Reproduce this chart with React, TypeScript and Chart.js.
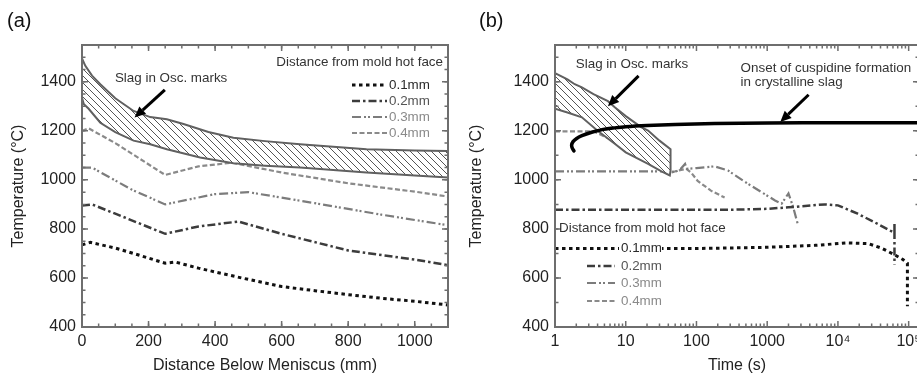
import React, { useEffect, useRef } from 'react';
import { Chart, registerables } from 'chart.js';
Chart.register(...registerables);

const FONT = "'Liberation Sans', Arial, Helvetica, sans-serif";

// ---------------- Panel (a): temperature vs distance below meniscus ----------------
const distA_01 = [0, 25, 100, 150, 250, 280, 350, 480, 600, 700, 800, 900, 1000, 1100];
const tempA_01 = [735, 745, 722, 702, 660, 665, 640, 600, 565, 548, 532, 517, 505, 490];
const distA_02 = [0, 30, 100, 250, 350, 470, 600, 800, 1000, 1100];
const tempA_02 = [895, 900, 862, 780, 810, 830, 780, 712, 675, 652];
const distA_03 = [0, 30, 150, 250, 400, 500, 700, 900, 1100];
const tempA_03 = [1050, 1050, 960, 900, 942, 950, 905, 858, 815];
const distA_04 = [0, 20, 100, 250, 350, 450, 600, 800, 1000, 1100];
const tempA_04 = [1200, 1210, 1150, 1020, 1055, 1070, 1030, 986, 952, 932];

const bandA_upperX = [0, 10, 30, 55, 100, 155, 205, 255, 305, 380, 455, 550, 655, 755, 855, 1000, 1100];
const bandA_upperY = [1495, 1465, 1425, 1390, 1333, 1281, 1256, 1247, 1228, 1195, 1172, 1158, 1145, 1135, 1125, 1120, 1118];
const bandA_lowerX = [1100, 1000, 855, 755, 655, 550, 455, 355, 255, 205, 155, 100, 55, 20, 5, 0];
const bandA_lowerY = [1010, 1018, 1030, 1040, 1050, 1058, 1068, 1091, 1125, 1145, 1160, 1195, 1233, 1290, 1310, 1335];

const distTicksA = [0, 200, 400, 600, 800, 1000];
const tempTicks = [400, 600, 800, 1000, 1200, 1400];

// ---------------- Panel (b): temperature vs time ----------------
const timeB_01 = [1, 100, 1000, 4700, 14000, 27000, 41000, 63000, 83000, 96000, 96000];
const tempB_01 = [720, 720, 725, 733, 743, 740, 722, 695, 675, 660, 485];
const timeB_02 = [1, 300, 1000, 2000, 6500, 10000, 19000, 33000, 60000, 63000, 63000, 63000];
const tempB_02 = [878, 878, 882, 888, 900, 896, 862, 827, 787, 785, 823, 655];
const timeB_03 = [1, 40, 50, 60, 69, 73, 100, 180, 280, 534, 1290, 1600, 2000, 2330, 2690];
const tempB_03 = [1035, 1035, 1032, 1045, 1065, 1045, 1048, 1055, 1038, 984, 916, 903, 945, 889, 822];
const timeB_04 = [1, 3.5, 8, 15, 30, 42, 55, 72, 84, 104, 160, 250];
const tempB_04 = [1198, 1198, 1150, 1100, 1050, 1028, 1038, 1045, 1030, 996, 956, 928];

const bandB_upperT = [1, 1.5, 1.9, 2.4, 3.5, 5.6, 7, 10, 16.5, 20.7, 30, 43];
const bandB_upperY = [1435, 1410, 1390, 1377, 1350, 1321, 1296, 1260, 1215, 1201, 1160, 1125];
const bandB_lowerT = [43, 42, 32, 20.7, 10, 7, 4, 2.4, 1.5, 1];
const bandB_lowerY = [1038, 1018, 1035, 1065, 1112, 1147, 1200, 1255, 1275, 1290];

const cuspT = [1.85, 1.75, 1.72, 1.8, 2, 2.4, 3.3, 4.5, 7, 10, 20, 50, 180, 1000, 10000, 140000];
const cuspY = [1118, 1130, 1142, 1156, 1168, 1180, 1194, 1204, 1212, 1217, 1222, 1226, 1230, 1232, 1233, 1233];

const timeTickValues = [1, 10, 100, 1000, 10000, 100000];
const timeTickLabels = ['1', '10', '100', '1000', '10\u2074', '10\u2075'];

const seriesLabels = ['0.1mm', '0.2mm', '0.3mm', '0.4mm'];

// styles
const ST = [
  { color: '#111111', width: 3, dash: [3.5, 3.5], text: '#2a2a2a' },
  { color: '#3c3c3c', width: 2.5, dash: [8, 3, 2.5, 3], text: '#555555' },
  { color: '#7c7c7c', width: 2.2, dash: [9, 3, 2, 2, 2, 3], text: '#8a8a8a' },
  { color: '#8a8a8a', width: 2.2, dash: [5, 2.5], text: '#8a8a8a' },
];

const ANN = `13.4px ${FONT}`;

const pts = (xs: number[], ys: number[]) => xs.map((x, i) => ({ x, y: ys[i] }));

function lineDs(label: string, xs: number[], ys: number[], st: any, order = 2) {
  return {
    label,
    data: pts(xs, ys),
    showLine: true,
    borderColor: st.color,
    borderWidth: st.width,
    borderDash: st.dash,
    borderCapStyle: 'butt',
    pointRadius: 0,
    fill: false,
    tension: 0,
    order,
  };
}

function makeHatch(): CanvasPattern | string {
  const s = 7;
  const c = document.createElement('canvas');
  c.width = s;
  c.height = s;
  const g = c.getContext('2d');
  if (!g) return '#fff';
  g.fillStyle = '#ffffff';
  g.fillRect(0, 0, s, s);
  g.strokeStyle = '#555555';
  g.lineWidth = 1;
  for (let k = -1; k <= 1; k++) {
    g.beginPath();
    g.moveTo(k * s, 0);
    g.lineTo(k * s + s, s);
    g.stroke();
  }
  return g.createPattern(c, 'repeat') || '#fff';
}

function bandDs(ux: number[], uy: number[], lx: number[], ly: number[], pattern: any) {
  const poly = [...pts(ux, uy), ...pts(lx, ly), { x: ux[0], y: uy[0] }];
  return {
    label: 'band',
    data: poly,
    showLine: true,
    borderColor: '#606060',
    borderWidth: 2,
    backgroundColor: pattern,
    fill: 'shape',
    pointRadius: 0,
    tension: 0,
    order: 1,
  };
}

function arrow(ctx: CanvasRenderingContext2D, x1: number, y1: number, x2: number, y2: number) {
  const a = Math.atan2(y2 - y1, x2 - x1);
  const hl = 11, hw = 5;
  const bx = x2 - hl * Math.cos(a), by = y2 - hl * Math.sin(a);
  ctx.setLineDash([]);
  ctx.strokeStyle = '#000';
  ctx.lineWidth = 3;
  ctx.lineCap = 'butt';
  ctx.beginPath();
  ctx.moveTo(x1, y1);
  ctx.lineTo(bx, by);
  ctx.stroke();
  ctx.fillStyle = '#000';
  ctx.beginPath();
  ctx.moveTo(x2, y2);
  ctx.lineTo(bx + hw * Math.sin(a), by - hw * Math.cos(a));
  ctx.lineTo(bx - hw * Math.sin(a), by + hw * Math.cos(a));
  ctx.closePath();
  ctx.fill();
}

function P(chart: any, x: number, y: number): [number, number] {
  return [chart.scales.x.getPixelForValue(x), chart.scales.y.getPixelForValue(y)];
}

function frameTicks(xMajor: number[], xMinor: number[], yMajor: number[], yMinor: number[]) {
  return {
    id: 'frameTicks',
    afterDatasetsDraw(chart: any) {
      const ctx = chart.ctx;
      const { left, right, top, bottom } = chart.chartArea;
      const xs = chart.scales.x, ys = chart.scales.y;
      ctx.save();
      ctx.setLineDash([]);
      ctx.strokeStyle = '#6e6e6e';
      ctx.lineWidth = 1.5;
      const tick = (vals: number[], len: number, horiz: boolean) => {
        for (const v of vals) {
          if (horiz) {
            const p = xs.getPixelForValue(v);
            if (p < left - 0.5 || p > right + 0.5) continue;
            ctx.beginPath();
            ctx.moveTo(p, bottom); ctx.lineTo(p, bottom - len);
            ctx.moveTo(p, top); ctx.lineTo(p, top + len);
            ctx.stroke();
          } else {
            const p = ys.getPixelForValue(v);
            if (p < top - 0.5 || p > bottom + 0.5) continue;
            ctx.beginPath();
            ctx.moveTo(left, p); ctx.lineTo(left + len, p);
            ctx.moveTo(right, p); ctx.lineTo(right - len, p);
            ctx.stroke();
          }
        }
      };
      tick(xMinor, 3.5, true);
      tick(xMajor, 6, true);
      tick(yMinor, 3.5, false);
      tick(yMajor, 6, false);
      ctx.lineWidth = 2;
      ctx.strokeRect(left, top, right - left, bottom - top);
      ctx.restore();
    },
  };
}

function baseScales(xOpts: any, yOpts: any, yWidth: number, xTitle: string) {
  const tickFont = { family: FONT, size: 16 };
  return {
    x: {
      ...xOpts,
      grid: { display: false, drawTicks: false },
      border: { display: false },
      ticks: { callback: (v: any) => String(v), ...(xOpts.ticks || {}), font: tickFont, color: '#222', padding: 5, maxRotation: 0, autoSkip: false },
      title: { display: true, text: xTitle, font: { family: FONT, size: 16, lineHeight: 1 }, color: '#222', padding: { top: 0, bottom: 0 } },
      afterFit: (s: any) => { s.height = 47; },
    },
    y: {
      ...yOpts,
      grid: { display: false, drawTicks: false },
      border: { display: false },
      ticks: { callback: (v: any) => String(v), font: tickFont, color: '#222', padding: 6, autoSkip: false },
      title: { display: true, text: 'Temperature (\u00B0C)', font: { family: FONT, size: 16, lineHeight: 1 }, color: '#222', padding: { top: 11, bottom: 0 } },
      afterFit: (s: any) => { s.width = yWidth; },
    },
  };
}

function configA() {
  const hatch = makeHatch();
  const xMinor: number[] = [];
  for (let v = 0; v <= 1100; v += 50) xMinor.push(v);
  const yMinor: number[] = [];
  for (let v = 400; v <= 1550; v += 50) yMinor.push(v);
  const annot = {
    id: 'annotA',
    afterDraw(chart: any) {
      const ctx = chart.ctx;
      const { right, top } = chart.chartArea;
      ctx.save();
      ctx.fillStyle = '#111';
      ctx.font = `20px ${FONT}`;
      ctx.textBaseline = 'middle';
      ctx.textAlign = 'left';
      ctx.fillText('(a)', 7, 21);
      ctx.font = ANN;
      ctx.fillStyle = '#333';
      const [tx, ty] = P(chart, 99, 1416);
      ctx.fillText('Slag in Osc. marks', tx, ty);
      const [a1x, a1y] = P(chart, 249, 1367);
      const [a2x, a2y] = P(chart, 158, 1254);
      arrow(ctx, a1x, a1y, a2x, a2y);
      // legend
      ctx.font = ANN;
      ctx.textBaseline = 'middle';
      ctx.textAlign = 'right';
      ctx.fillStyle = '#333';
      ctx.fillText('Distance from mold hot face', right - 5, top + 17);
      ctx.textAlign = 'left';
      const ys = [85, 101, 117, 133];
      seriesLabels.forEach((lab, i) => {
        const st = ST[i];
        ctx.strokeStyle = st.color;
        ctx.lineWidth = st.width;
        ctx.setLineDash(st.dash);
        ctx.lineCap = 'butt';
        ctx.beginPath();
        ctx.moveTo(right - 96, ys[i]);
        ctx.lineTo(right - 61, ys[i]);
        ctx.stroke();
        ctx.setLineDash([]);
        ctx.fillStyle = st.text;
        ctx.fillText(lab, right - 59, ys[i]);
      });
      ctx.restore();
    },
  };
  return {
    type: 'scatter',
    data: {
      datasets: [
        lineDs(seriesLabels[0], distA_01, tempA_01, ST[0]),
        lineDs(seriesLabels[1], distA_02, tempA_02, ST[1]),
        lineDs(seriesLabels[2], distA_03, tempA_03, ST[2]),
        lineDs(seriesLabels[3], distA_04, tempA_04, ST[3]),
        bandDs(bandA_upperX, bandA_upperY, bandA_lowerX, bandA_lowerY, hatch),
      ],
    },
    options: {
      animation: false,
      responsive: false,
      layout: { padding: { top: 45, right: 10, left: 0, bottom: 0 } },
      plugins: { legend: { display: false }, tooltip: { enabled: false } },
      scales: baseScales(
        { type: 'linear', min: 0, max: 1100, afterBuildTicks: (s: any) => { s.ticks = distTicksA.map((v) => ({ value: v })); } },
        { type: 'linear', min: 400, max: 1550, afterBuildTicks: (s: any) => { s.ticks = tempTicks.map((v) => ({ value: v })); } },
        82,
        'Distance Below Meniscus (mm)'
      ),
    },
    plugins: [frameTicks(distTicksA, xMinor, tempTicks, yMinor), annot],
  };
}

function configB() {
  const hatch = makeHatch();
  const xMinor: number[] = [];
  for (let d = 1; d <= 100000; d *= 10) for (let k = 2; k <= 9; k++) xMinor.push(d * k);
  const yMinor: number[] = [];
  for (let v = 400; v <= 1550; v += 100) yMinor.push(v);
  const annot = {
    id: 'annotB',
    afterDraw(chart: any) {
      const ctx = chart.ctx;
      const { left } = chart.chartArea;
      ctx.save();
      ctx.fillStyle = '#111';
      ctx.font = `20px ${FONT}`;
      ctx.textBaseline = 'middle';
      ctx.textAlign = 'left';
      ctx.fillText('(b)', 21, 21);
      ctx.font = ANN;
      ctx.fillStyle = '#333';
      let [tx, ty] = P(chart, 1.97, 1473);
      ctx.fillText('Slag in Osc. marks', tx, ty);
      [tx, ty] = P(chart, 421, 1453);
      ctx.fillText('Onset of cuspidine formation', tx, ty);
      [tx, ty] = P(chart, 421, 1396);
      ctx.fillText('in crystalline slag', tx, ty);
      let [a1x, a1y] = P(chart, 15.2, 1424);
      let [a2x, a2y] = P(chart, 5.6, 1300);
      arrow(ctx, a1x, a1y, a2x, a2y);
      [a1x, a1y] = P(chart, 3850, 1347);
      [a2x, a2y] = P(chart, 1530, 1236);
      arrow(ctx, a1x, a1y, a2x, a2y);
      // legend
      ctx.fillStyle = '#333';
      ctx.fillText('Distance from mold hot face', left + 4, 228);
      const ys = [248, 266, 283, 301];
      seriesLabels.forEach((lab, i) => {
        const st = ST[i];
        if (i === 0) {
          ctx.fillStyle = '#fff';
          ctx.fillRect(left + 64, ys[i] - 8, 43, 16);
        } else {
          ctx.strokeStyle = st.color;
          ctx.lineWidth = st.width;
          ctx.setLineDash(st.dash);
          ctx.lineCap = 'butt';
          ctx.beginPath();
          ctx.moveTo(left + 32, ys[i]);
          ctx.lineTo(left + 60, ys[i]);
          ctx.stroke();
          ctx.setLineDash([]);
        }
        ctx.fillStyle = st.text;
        ctx.fillText(lab, left + 66, ys[i]);
      });
      ctx.restore();
    },
  };
  return {
    type: 'scatter',
    data: {
      datasets: [
        {
          ...lineDs('cuspidine', cuspT, cuspY, { color: '#000', width: 3.5, dash: [] }, 0),
          borderCapStyle: 'round',
          tension: 0.3,
        },
        lineDs(seriesLabels[0], timeB_01, tempB_01, ST[0]),
        lineDs(seriesLabels[1], timeB_02, tempB_02, ST[1]),
        lineDs(seriesLabels[2], timeB_03, tempB_03, ST[2]),
        lineDs(seriesLabels[3], timeB_04, tempB_04, ST[3]),
        bandDs(bandB_upperT, bandB_upperY, bandB_lowerT, bandB_lowerY, hatch),
      ],
    },
    options: {
      animation: false,
      responsive: false,
      layout: { padding: { top: 45, right: 9, left: 0, bottom: 0 } },
      plugins: { legend: { display: false }, tooltip: { enabled: false } },
      scales: baseScales(
        {
          type: 'logarithmic', min: 1, max: 140000,
          afterBuildTicks: (s: any) => { s.ticks = timeTickValues.map((v) => ({ value: v })); },
          ticks: { callback: (v: any, i: number) => timeTickLabels[i] },
        },
        { type: 'linear', min: 400, max: 1550, afterBuildTicks: (s: any) => { s.ticks = tempTicks.map((v) => ({ value: v })); } },
        97,
        'Time (s)'
      ),
    },
    plugins: [frameTicks(timeTickValues, xMinor, tempTicks, yMinor), annot],
  };
}

function ChartPanel({ make, left, width }: { make: () => any; left: number; width: number }) {
  const ref = useRef<HTMLCanvasElement>(null);
  useEffect(() => {
    const chart = new Chart(ref.current as HTMLCanvasElement, make());
    return () => chart.destroy();
  }, []);
  return (
    <div style={{ position: 'absolute', left, top: 0, width, height: 374 }}>
      <canvas ref={ref} width={width} height={374} style={{ display: 'block', width, height: 374 }} />
    </div>
  );
}

export default function App() {
  return (
    <div style={{ position: 'fixed', left: 0, top: 0, width: 917, height: 374, overflow: 'hidden', background: '#fff' }}>
      <ChartPanel make={configA} left={0} width={458} />
      <ChartPanel make={configB} left={458} width={470} />
    </div>
  );
}
